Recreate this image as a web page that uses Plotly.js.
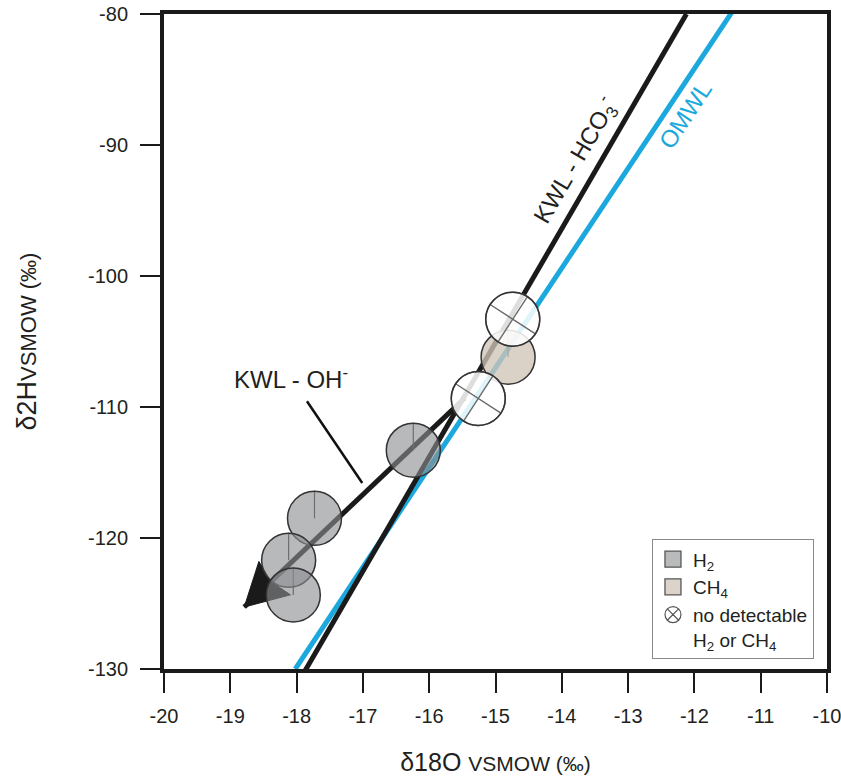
<!DOCTYPE html>
<html>
<head>
<meta charset="utf-8">
<script src="https://cdn.plot.ly/plotly-3.0.1.min.js"></script>
<style>html,body{margin:0;padding:0;background:#fff;}</style>
</head>
<body>
<div id="chart" style="width:841px;height:784px;"></div>
<script>
// ---- data ----
const xTickVals = [-20, -19, -18, -17, -16, -15, -14, -13, -12, -11, -10];
const xTickText = ['-20', '-19', '-18', '-17', '-16', '-15', '-14', '-13', '-12', '-11', '-10'];
const yTickVals = [-130, -120, -110, -100, -90, -80];
const yTickText = ['-130', '-120', '-110', '-100', '-90', '-80'];

// water lines
const omwlX = [-18.02, -11.40];
const omwlY = [-130, -79.6];
const kwlHco3X = [-17.88, -12.12];
const kwlHco3Y = [-130.2, -80];
const kwlOhX = [-15.46, -18.79];
const kwlOhY = [-109.3, -125.27];

// samples
const h2X = [-16.24, -17.73, -18.12, -18.05];
const h2Y = [-113.3, -118.5, -121.7, -124.35];
const ch4X = [-14.81];
const ch4Y = [-106.2];
const noneX = [-14.74, -15.26];
const noneY = [-103.3, -109.35];

const FONT = 'Liberation Sans, Arial, Helvetica, sans-serif';
const INK = '#1a1a1a';
const BLUE = '#1ba8dc';
const CIRCLE = 54;

// ---- geometry helpers (plot area in px, from the layout below) ----
const W = 841, H = 784, M = {l: 164, r: 14, t: 14, b: 115};
const X_RANGE = [-20, -10], Y_RANGE = [-130, -80];
const pxPerX = (W - M.l - M.r) / (X_RANGE[1] - X_RANGE[0]);
const pxPerY = (H - M.t - M.b) / (Y_RANGE[1] - Y_RANGE[0]);

// arrowhead at the end of the KWL-OH line, built from the line's own last segment
function arrowHead(xs, ys, lenPx, halfPx, notch) {
  const n = xs.length;
  const x1 = xs[n - 1], y1 = ys[n - 1], x0 = xs[n - 2], y0 = ys[n - 2];
  const dx = (x1 - x0) * pxPerX, dy = (y1 - y0) * pxPerY;
  const d = Math.hypot(dx, dy), ux = dx / d, uy = dy / d;
  const px = -uy, py = ux;
  const toData = (ox, oy) => [x1 + ox / pxPerX, y1 + oy / pxPerY];
  const a = toData(-lenPx * ux + halfPx * px, -lenPx * uy + halfPx * py);
  const b = toData(-lenPx * notch * ux, -lenPx * notch * uy);
  const c = toData(-lenPx * ux - halfPx * px, -lenPx * uy - halfPx * py);
  return {x: [x1, a[0], b[0], c[0], x1], y: [y1, a[1], b[1], c[1], y1]};
}
const head = arrowHead(kwlOhX, kwlOhY, 42, 23, 0.88);

const traces = [
  {x: omwlX, y: omwlY, mode: 'lines', line: {color: BLUE, width: 5}, showlegend: false, hoverinfo: 'skip', cliponaxis: false},
  {x: kwlHco3X, y: kwlHco3Y, mode: 'lines', line: {color: INK, width: 5}, showlegend: false, hoverinfo: 'skip', cliponaxis: false},
  {x: kwlOhX, y: kwlOhY, mode: 'lines', line: {color: INK, width: 5}, showlegend: false, hoverinfo: 'skip'},
  {x: head.x, y: head.y, mode: 'lines', fill: 'toself', fillcolor: INK, line: {color: INK, width: 1},
   showlegend: false, hoverinfo: 'skip'},
  {x: h2X, y: h2Y, mode: 'markers', name: 'H2',
   marker: {symbol: 'circle', size: CIRCLE, color: 'rgba(140,142,145,0.62)', line: {color: '#333', width: 1.5}},
   error_y: {type: 'constant', symmetric: false, value: 2.1, valueminus: 0, color: '#3a3a3a', thickness: 1.2, width: 0},
   showlegend: false},
  {x: ch4X, y: ch4Y, mode: 'markers', name: 'CH4',
   marker: {symbol: 'circle', size: CIRCLE, color: 'rgba(207,196,183,0.78)', line: {color: '#333', width: 1.5}},
   error_y: {type: 'constant', symmetric: false, value: 2.1, valueminus: 0, color: '#3a3a3a', thickness: 1.2, width: 0},
   showlegend: false},
  {x: noneX, y: noneY, mode: 'markers', name: 'none',
   marker: {symbol: 'circle-x', size: CIRCLE, angle: -12, color: 'rgba(255,255,255,0.86)', line: {color: '#6a6a6a', width: 1.4}},
   showlegend: false},
  {x: noneX, y: noneY, mode: 'markers', hoverinfo: 'skip',
   marker: {symbol: 'circle-open', size: CIRCLE, color: '#333', line: {width: 1.5}},
   showlegend: false},
  // legend entries
  {x: [null], y: [null], mode: 'markers', name: 'H<sub>2</sub>',
   marker: {symbol: 'square', size: 16, color: '#b9babc', line: {color: '#555', width: 1.3}}},
  {x: [null], y: [null], mode: 'markers', name: 'CH<sub>4</sub>',
   marker: {symbol: 'square', size: 16, color: '#dcd4ca', line: {color: '#555', width: 1.3}}},
  {x: [null], y: [null], mode: 'markers', name: 'no detectable<br>H<sub>2</sub> or CH<sub>4</sub>',
   marker: {symbol: 'circle-x', size: 16, color: '#ffffff', line: {color: '#555', width: 1.2}}}
];

const layout = {
  width: W, height: H,
  margin: {l: M.l, r: M.r, t: M.t, b: M.b, pad: 0},
  paper_bgcolor: '#ffffff', plot_bgcolor: '#ffffff',
  font: {family: FONT, color: '#231f20'},
  showlegend: true,
  legend: {x: 0.736, y: 0.198, xanchor: 'left', yanchor: 'top', bgcolor: '#ffffff',
           bordercolor: '#8a8a8a', borderwidth: 1, font: {family: FONT, size: 19, color: '#231f20'},
           itemwidth: 30, tracegroupgap: 0, valign: 'top', traceorder: 'normal'},
  xaxis: {
    range: X_RANGE, tickvals: xTickVals, ticktext: xTickText,
    ticks: 'outside', ticklen: 20, tickwidth: 2, tickcolor: INK,
    showline: true, linewidth: 4, linecolor: INK, mirror: true,
    showgrid: false, zeroline: false, ticklabelstandoff: 6, ticklabeloverflow: 'allow',
    tickfont: {family: FONT, size: 20, color: '#231f20'},
    title: {text: 'δ18O <span style="font-size:21px">VSMOW (‰)</span>',
            font: {family: FONT, size: 25, color: '#231f20'}, standoff: 28}
  },
  yaxis: {
    range: Y_RANGE, tickvals: yTickVals, ticktext: yTickText,
    ticks: 'outside', ticklen: 20, tickwidth: 2, tickcolor: INK,
    showline: true, linewidth: 4, linecolor: INK, mirror: true,
    showgrid: false, zeroline: false, ticklabelstandoff: 8,
    tickfont: {family: FONT, size: 20, color: '#231f20'},
    title: {text: 'δ2H<span style="font-size:22px">VSMOW (‰)</span>', font: {family: FONT, size: 27, color: '#231f20'}, standoff: 45}
  },
  annotations: [
    {xref: 'x', yref: 'y', axref: 'x', ayref: 'y', x: -17.01, y: -115.8, ax: -18.08, ay: -107.8,
     text: 'KWL - OH<sup>-</sup>', showarrow: true, arrowhead: 0, arrowwidth: 2.5, arrowcolor: '#111',
     startstandoff: 8, font: {family: FONT, size: 24, color: '#231f20'}},
    {xref: 'x', yref: 'y', x: -13.79, y: -91.15, text: 'KWL - HCO<sub>3</sub><sup>-</sup>', showarrow: false,
     textangle: -59.8, font: {family: FONT, size: 24, color: '#231f20'}},
    {xref: 'x', yref: 'y', x: -12.13, y: -87.7, text: 'OMWL', showarrow: false,
     textangle: -56.4, font: {family: FONT, size: 24, color: BLUE}}
  ]
};

Plotly.newPlot('chart', traces, layout, {displayModeBar: false, staticPlot: true});
</script>
</body>
</html>
